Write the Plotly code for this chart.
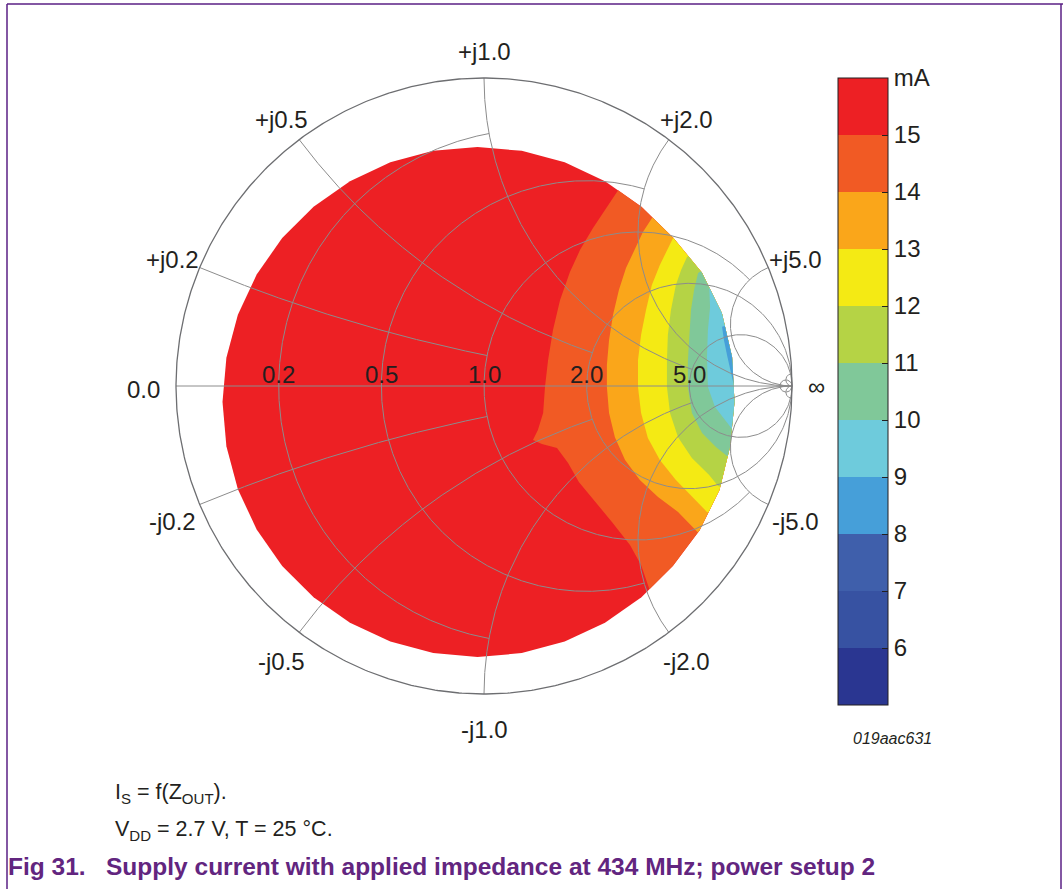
import numpy as np
import plotly.graph_objects as go

# ---------------- data ----------------
# colour bands of supply current (mA): band i spans LEVELS[i]..LEVELS[i+1]
LEVELS = [5, 6, 7, 8, 9, 10, 11, 12, 13, 14, 15, 16]
BAND_COLORS = ["#2a3691", "#3752a2", "#3f5fab", "#469fd9", "#6ecbdc", "#80c899",
               "#b5d345", "#f4ea14", "#faa61a", "#f15a24", "#ed2024"]
CBAR_TICKVALS = [6, 7, 8, 9, 10, 11, 12, 13, 14, 15, 16]
CBAR_TICKTEXT = ["6", "7", "8", "9", "10", "11", "12", "13", "14", "15", "mA"]

# boundary of the measured impedance region (reflection-coefficient plane, counter-clockwise)
DOMAIN_RE = [0.8133, 0.8054, 0.7722, 0.7071, 0.6143, 0.5111, 0.3929, 0.2620, 0.1226, -0.0211,
             -0.1648, -0.3042, -0.4351, -0.5533, -0.6553, -0.7381, -0.7991, -0.8364, -0.8490,
             -0.8364, -0.7991, -0.7381, -0.6553, -0.5533, -0.4351, -0.3042, -0.1648, -0.0211,
             0.1226, 0.2620, 0.3929, 0.5111, 0.6131, 0.7001, 0.7645, 0.7990]
DOMAIN_IM = [-0.0519, 0.0938, 0.2368, 0.3686, 0.4813, 0.5823, 0.6651, 0.7261, 0.7634, 0.7760,
             0.7634, 0.7261, 0.6651, 0.5823, 0.4803, 0.3621, 0.2312, 0.0918, -0.0519,
             -0.1956, -0.3350, -0.4659, -0.5841, -0.6861, -0.7689, -0.8299, -0.8672, -0.8798,
             -0.8672, -0.8299, -0.7689, -0.6861, -0.5841, -0.4683, -0.3378, -0.1965]

# iso-current lines (top end -> bottom end), reflection-coefficient plane
ISO15_RE = [0.432, 0.399, 0.354, 0.312, 0.279, 0.247, 0.224, 0.208, 0.198, 0.192, 0.175, 0.159,
            0.188, 0.237, 0.273, 0.308, 0.357, 0.416, 0.474, 0.510, 0.539]
ISO15_IM = [0.630, 0.578, 0.513, 0.442, 0.370, 0.279, 0.182, 0.084, -0.003, -0.088, -0.143, -0.175,
            -0.188, -0.201, -0.250, -0.312, -0.370, -0.442, -0.516, -0.581, -0.666]
ISO14_RE = [0.545, 0.516, 0.490, 0.461, 0.438, 0.419, 0.406, 0.399, 0.399, 0.406, 0.425, 0.458,
            0.506, 0.565, 0.630, 0.692]
ISO14_IM = [0.545, 0.500, 0.442, 0.383, 0.312, 0.231, 0.149, 0.068, -0.003, -0.088, -0.166, -0.240,
            -0.305, -0.360, -0.409, -0.474]
ISO13_RE = [0.614, 0.594, 0.571, 0.545, 0.526, 0.510, 0.500, 0.500, 0.510, 0.532, 0.571, 0.623,
            0.675, 0.724]
ISO13_IM = [0.481, 0.442, 0.393, 0.328, 0.247, 0.166, 0.084, -0.003, -0.088, -0.169, -0.240, -0.305,
            -0.360, -0.409]
ISO12_RE = [0.659, 0.640, 0.623, 0.607, 0.597, 0.594, 0.594, 0.604, 0.630, 0.675, 0.731, 0.760]
ISO12_IM = [0.419, 0.377, 0.328, 0.247, 0.166, 0.084, -0.003, -0.088, -0.166, -0.234, -0.289, -0.325]
ISO11_RE = [0.695, 0.682, 0.672, 0.666, 0.662, 0.662, 0.675, 0.708, 0.753, 0.789]
ISO11_IM = [0.367, 0.312, 0.247, 0.166, 0.084, -0.003, -0.088, -0.153, -0.198, -0.227]
ISO10_RE = [0.731, 0.734, 0.727, 0.724, 0.727, 0.750, 0.789, 0.808]
ISO10_IM = [0.328, 0.256, 0.182, 0.094, -0.003, -0.068, -0.120, -0.143]
ISO9_RE = [0.773, 0.779, 0.789, 0.799, 0.808, 0.818]
ISO9_IM = [0.192, 0.149, 0.101, 0.052, 0.013, -0.019]

ISO_LINES = [(15, ISO15_RE, ISO15_IM), (14, ISO14_RE, ISO14_IM), (13, ISO13_RE, ISO13_IM),
             (12, ISO12_RE, ISO12_IM), (11, ISO11_RE, ISO11_IM), (10, ISO10_RE, ISO10_IM),
             (9, ISO9_RE, ISO9_IM)]

# Smith chart grid
R_TICKS = [0.2, 0.5, 1.0, 2.0, 5.0, 50.0]
R_MAX_X = [1.0, 2.0, 5.0, np.inf, np.inf, np.inf]      # reactance extent of each r circle
X_TICKS = [0.2, 0.5, 1.0, 2.0, 5.0, 50.0]
X_MAX_R = [1.0, 2.0, 5.0, np.inf, np.inf, np.inf]      # resistance extent of each x arc
R_LABELS = ["0.2", "0.5", "1.0", "2.0", "5.0"]
X_LABEL_VALUES = [0.2, 0.5, 1.0, 2.0, 5.0]

# ---------------- helpers ----------------
def gamma(z):
    return (z - 1) / (z + 1)

def clip_convex(subject, clipper):
    def inside(p, a, b):
        return (b[0] - a[0]) * (p[1] - a[1]) - (b[1] - a[1]) * (p[0] - a[0]) >= 0
    def inter(s, e, a, b):
        x1, y1 = s; x2, y2 = e; x3, y3 = a; x4, y4 = b
        den = (x1 - x2) * (y3 - y4) - (y1 - y2) * (x3 - x4)
        t = ((x1 - x3) * (y3 - y4) - (y1 - y3) * (x3 - x4)) / den
        return (x1 + t * (x2 - x1), y1 + t * (y2 - y1))
    out = list(subject)
    n = len(clipper)
    for i in range(n):
        a, b = clipper[i], clipper[(i + 1) % n]
        inp, out = out, []
        if not inp:
            break
        s = inp[-1]
        for e in inp:
            if inside(e, a, b):
                if not inside(s, a, b):
                    out.append(inter(s, e, a, b))
                out.append(e)
            elif inside(s, a, b):
                out.append(inter(s, e, a, b))
            s = e
    return out

W, H = 1063, 889
fig = go.Figure()

# measured region (top band colour)
domain = list(zip(DOMAIN_RE, DOMAIN_IM))
fig.add_trace(go.Scatter(x=DOMAIN_RE + [DOMAIN_RE[0]], y=DOMAIN_IM + [DOMAIN_IM[0]],
                         mode="lines", fill="toself", fillcolor=BAND_COLORS[-1],
                         line=dict(width=0, color=BAND_COLORS[-1]), hoverinfo="skip",
                         showlegend=False))

dc = np.array([np.mean(DOMAIN_RE), np.mean(DOMAIN_IM)])
for lev, xs, ys in ISO_LINES:
    pts = [np.array(p) for p in zip(xs, ys)]
    t, b = pts[0], pts[-1]
    t2 = t + 0.4 * (t - dc) / np.linalg.norm(t - dc)
    b2 = b + 0.4 * (b - dc) / np.linalg.norm(b - dc)
    poly = [tuple(t2)] + [tuple(p) for p in pts] + [tuple(b2), (2.5, b2[1]), (2.5, t2[1])]
    clipped = clip_convex(poly, domain)
    cx = [p[0] for p in clipped] + [clipped[0][0]]
    cy = [p[1] for p in clipped] + [clipped[0][1]]
    col = BAND_COLORS[LEVELS.index(lev) - 1]
    fig.add_trace(go.Scatter(x=cx, y=cy, mode="lines", fill="toself", fillcolor=col,
                             line=dict(width=0, color=col), hoverinfo="skip", showlegend=False))

# Smith grid
gx, gy = [], []
for r, xm in zip(R_TICKS, R_MAX_X):
    th_max = np.arctan(xm) if np.isfinite(xm) else np.pi / 2 - 1e-4
    th = np.linspace(-th_max, th_max, 900)
    g = gamma(r + 1j * np.tan(th))
    gx += list(g.real) + [None]
    gy += list(g.imag) + [None]
for xv, rm in zip(X_TICKS, X_MAX_R):
    th_max = np.arctan(rm) if np.isfinite(rm) else np.pi / 2 - 1e-4
    th = np.linspace(0, th_max, 900)
    for sgn in (1, -1):
        g = gamma(np.tan(th) + 1j * sgn * xv)
        gx += list(g.real) + [None]
        gy += list(g.imag) + [None]
gx += [-1, 1, None]
gy += [0, 0, None]
fig.add_trace(go.Scatter(x=gx, y=gy, mode="lines", line=dict(color="#8c8c8c", width=1),
                         hoverinfo="skip", showlegend=False))
phi = np.linspace(0, 2 * np.pi, 720)
fig.add_trace(go.Scatter(x=np.cos(phi), y=np.sin(phi), mode="lines",
                         line=dict(color="#6d6e71", width=1.3), hoverinfo="skip", showlegend=False))

# colour bar (discrete)
CB_TOP, CB_BOT, CB_LEFT, CB_W = 78, 705, 838, 50
cs = []
nb = len(BAND_COLORS)
for i, c in enumerate(BAND_COLORS):
    cs.append([i / nb, c])
    cs.append([(i + 1) / nb, c])
fig.add_trace(go.Scatter(x=[None], y=[None], mode="markers", showlegend=False,
                         marker=dict(color=[LEVELS[0]], colorscale=cs, cmin=LEVELS[0], cmax=LEVELS[-1],
                                     showscale=True,
                                     colorbar=dict(x=CB_LEFT / W, xanchor="left",
                                                   y=1 - (CB_TOP + CB_BOT) / 2 / H,
                                                   yanchor="middle", len=(CB_BOT - CB_TOP) / H,
                                                   lenmode="fraction",
                                                   thickness=CB_W, thicknessmode="pixels",
                                                   outlinecolor="#231f20", outlinewidth=1,
                                                   xpad=0, ypad=0,
                                                   tickvals=CBAR_TICKVALS, ticktext=CBAR_TICKTEXT,
                                                   ticks="inside", ticklen=6, tickcolor="#231f20",
                                                   tickfont=dict(family="Liberation Sans, Arial", size=24,
                                                                 color="#231f20")))))

lab_font = dict(family="Liberation Sans, Arial", size=24, color="#231f20")
anns = []
for r, txt in zip(R_TICKS, R_LABELS):
    g = gamma(r)
    anns.append(dict(x=g, y=0.036, text=txt, showarrow=False, font=lab_font,
                     xanchor="center", yanchor="middle"))
for xv in X_LABEL_VALUES:
    for sgn, pre in ((1, "+j"), (-1, "-j")):
        g = gamma(1j * sgn * xv)
        anns.append(dict(x=1.095 * g.real, y=1.095 * g.imag, text=f"{pre}{xv:.1f}", showarrow=False,
                         font=lab_font, xanchor="center", yanchor="middle",
                         yshift=-3 if sgn > 0 else -6))
anns.append(dict(x=-1.106, y=-0.01, text="0.0", showarrow=False, font=lab_font,
                 xanchor="center", yanchor="middle"))
anns.append(dict(x=1.08, y=0.0, text="∞", showarrow=False, font=lab_font,
                 xanchor="center", yanchor="middle"))

cap_font = dict(family="Liberation Sans, Arial", size=21.5, color="#231f20")
anns.append(dict(xref="paper", yref="paper", x=113 / W, y=1 - 793 / H,
                 text="I<sub>S</sub> = f(Z<sub>OUT</sub>).", showarrow=False, font=cap_font,
                 xanchor="left", yanchor="middle"))
anns.append(dict(xref="paper", yref="paper", x=113 / W, y=1 - 830 / H,
                 text="V<sub>DD</sub> = 2.7 V, T = 25 °C.", showarrow=False, font=cap_font,
                 xanchor="left", yanchor="middle"))
anns.append(dict(xref="paper", yref="paper", x=6 / W, y=1 - 866 / H,
                 text="<b>Fig 31.&nbsp;&nbsp; Supply current with applied impedance at 434 MHz; power setup 2</b>",
                 showarrow=False, xanchor="left", yanchor="middle",
                 font=dict(family="Liberation Sans, Arial", size=24.5, color="#62257f")))
anns.append(dict(xref="paper", yref="paper", x=851 / W, y=1 - 738 / H,
                 text="<i>019aac631</i>", showarrow=False, xanchor="left", yanchor="middle",
                 font=dict(family="Liberation Sans, Arial", size=16, color="#231f20")))

purple = "#5a1f84"
shapes = [
    dict(type="line", xref="paper", yref="paper", x0=7 / W, x1=1, y0=1 - 4 / H, y1=1 - 4 / H,
         line=dict(color=purple, width=1.5)),
    dict(type="line", xref="paper", yref="paper", x0=7 / W, x1=7 / W, y0=0, y1=1 - 4 / H,
         line=dict(color=purple, width=1.5)),
    dict(type="line", xref="paper", yref="paper", x0=1061 / W, x1=1061 / W, y0=0, y1=1 - 4 / H,
         line=dict(color=purple, width=1.5)),
]
# tick marks on the left edge of the colour bar (at the band boundaries)
for v in LEVELS[1:-1]:
    yp = CB_BOT - (v - LEVELS[0]) / (LEVELS[-1] - LEVELS[0]) * (CB_BOT - CB_TOP)
    shapes.append(dict(type="line", xref="paper", yref="paper", x0=CB_LEFT / W, x1=(CB_LEFT + 6) / W,
                       y0=1 - yp / H, y1=1 - yp / H, line=dict(color="#231f20", width=1)))

fig.update_layout(
    width=W, height=H, margin=dict(l=0, r=0, t=0, b=0),
    paper_bgcolor="white", plot_bgcolor="white", showlegend=False,
    xaxis=dict(range=[-484 / 308, (W - 484) / 308], visible=False, fixedrange=True),
    yaxis=dict(range=[(386 - H) / 308, 386 / 308], visible=False, fixedrange=True),
    annotations=anns, shapes=shapes,
)
fig.write_html("out.html", config={"displayModeBar": False},
               post_script="document.body.style.margin='0px';")
